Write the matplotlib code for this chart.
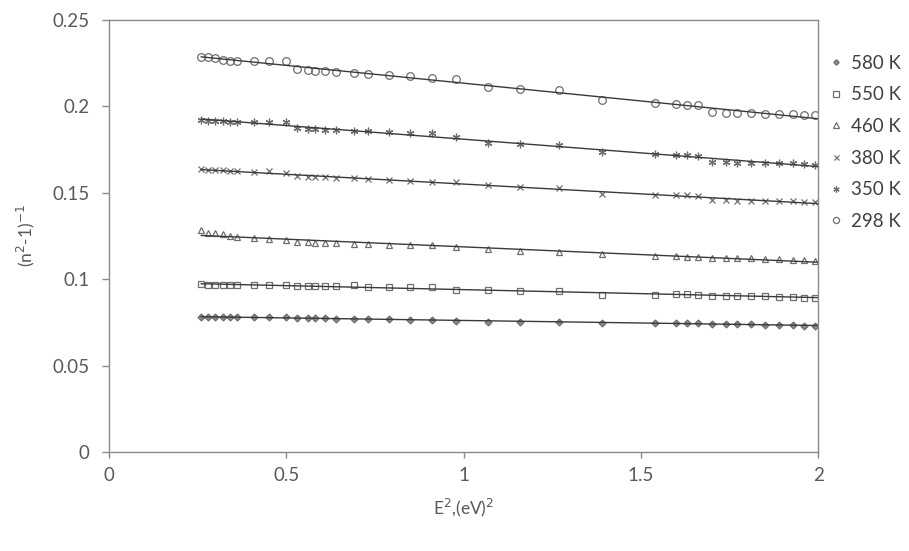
import numpy as np
from matplotlib import pyplot as plt

plt.rcParams['font.family'] = ['Lato', 'DejaVu Sans']

# photon energy squared, (eV)^2 -- same grid for all temperatures
e2 = [0.26, 0.28, 0.30, 0.32, 0.34, 0.36, 0.41, 0.45, 0.50, 0.53, 0.56, 0.58,
      0.61, 0.64, 0.69, 0.73, 0.79, 0.85, 0.91, 0.98, 1.07, 1.16, 1.27, 1.39,
      1.54, 1.60, 1.63, 1.66, 1.70, 1.74, 1.77, 1.81, 1.85, 1.89, 1.93, 1.96, 1.99]

y580 = [0.078, 0.078, 0.078, 0.078, 0.078, 0.078, 0.078, 0.078, 0.078, 0.0775,
        0.0775, 0.0775, 0.0775, 0.077, 0.077, 0.077, 0.077, 0.0765, 0.0765, 0.076,
        0.0755, 0.0755, 0.0755, 0.0745, 0.0745, 0.0745, 0.0745, 0.0745, 0.074, 0.074,
        0.074, 0.074, 0.0735, 0.0735, 0.0735, 0.073, 0.073]
y550 = [0.0975, 0.0965, 0.0965, 0.0965, 0.0965, 0.0965, 0.0965, 0.0965, 0.0965, 0.096,
        0.096, 0.096, 0.096, 0.096, 0.0965, 0.0955, 0.0955, 0.0955, 0.0955, 0.094,
        0.0935, 0.093, 0.093, 0.091, 0.091, 0.0915, 0.0915, 0.091, 0.0905, 0.0905,
        0.0905, 0.0905, 0.0905, 0.0895, 0.0895, 0.089, 0.089]
y460 = [0.1285, 0.127, 0.1265, 0.126, 0.125, 0.1245, 0.124, 0.1235, 0.1225, 0.1215,
        0.1215, 0.121, 0.121, 0.121, 0.1205, 0.1205, 0.12, 0.12, 0.12, 0.1185,
        0.1175, 0.1165, 0.116, 0.1145, 0.1135, 0.1135, 0.113, 0.113, 0.112, 0.112,
        0.112, 0.112, 0.1115, 0.1115, 0.111, 0.111, 0.1105]
y380 = [0.1635, 0.163, 0.163, 0.163, 0.1625, 0.1625, 0.162, 0.1625, 0.1615, 0.1595,
        0.159, 0.159, 0.159, 0.1585, 0.1585, 0.158, 0.1575, 0.157, 0.1565, 0.156,
        0.1545, 0.1535, 0.1525, 0.1495, 0.149, 0.1485, 0.1485, 0.148, 0.146, 0.146,
        0.1455, 0.1455, 0.1455, 0.145, 0.145, 0.1445, 0.1445]
y350 = [0.192, 0.1915, 0.1915, 0.1915, 0.191, 0.191, 0.191, 0.191, 0.191, 0.1875,
        0.187, 0.187, 0.1865, 0.1865, 0.186, 0.1855, 0.185, 0.1845, 0.1845, 0.1825,
        0.179, 0.178, 0.1775, 0.1735, 0.1725, 0.172, 0.172, 0.1715, 0.168, 0.168,
        0.1675, 0.1675, 0.1675, 0.167, 0.167, 0.1665, 0.166]
y298 = [0.2285, 0.2285, 0.228, 0.227, 0.2265, 0.2265, 0.2265, 0.2265, 0.2265, 0.2215,
        0.221, 0.2205, 0.2205, 0.22, 0.2195, 0.219, 0.218, 0.2175, 0.2165, 0.216,
        0.211, 0.210, 0.2095, 0.2035, 0.202, 0.2015, 0.201, 0.201, 0.1965, 0.196,
        0.196, 0.196, 0.1955, 0.1955, 0.1955, 0.195, 0.195]

labels = ['580 K', '550 K', '460 K', '380 K', '350 K', '298 K']
series = [y580, y550, y460, y380, y350, y298]
markers = ['D', 's', '^', 'x', (6, 2, 0), 'o']
msizes = [3.5, 4.8, 4.8, 4.5, 5.5, 5.5]

GREY = '#595959'

fig = plt.figure(figsize=(9.09, 5.51), dpi=100)
ax = fig.add_axes([0.12, 0.1797, 0.78, 0.784])

x = np.array(e2)
for lab, ys, mk, ms in zip(labels, series, markers, msizes):
    ys = np.array(ys)
    filled = mk in ('D',)
    ax.plot(x, ys, linestyle='none', marker=mk, markersize=ms,
            markerfacecolor=('#8c8c8c' if filled else 'none'),
            markeredgecolor='#6e6e6e', markeredgewidth=0.9, label=lab)
    # linear trendline
    p = np.poly1d(np.polyfit(x, ys, 1))
    xl = np.array([x[0], 2.0])
    ax.plot(xl, p(xl), color='#3a3a3a', linewidth=1.0)

ax.set_xlim(0, 2)
ax.set_ylim(0, 0.25)
ax.set_xticks([0, 0.5, 1, 1.5, 2])
ax.set_xticklabels(['0', '0.5', '1', '1.5', '2'])
ax.set_yticks([0, 0.05, 0.1, 0.15, 0.2, 0.25])
ax.set_yticklabels(['0', '0.05', '0.1', '0.15', '0.2', '0.25'])

for s in ax.spines.values():
    s.set_color('#8a8a8a')
    s.set_linewidth(1.0)
ax.tick_params(axis='both', colors='#8a8a8a', labelcolor=GREY, labelsize=13.5,
               width=1.0, direction='out')
ax.tick_params(axis='y', length=5, pad=9)
ax.tick_params(axis='x', length=4, pad=7)

ax.set_xlabel('E$^2$,(eV)$^2$', fontsize=12.5, color=GREY, labelpad=9)
ax.set_ylabel('(n$^2$-1)$^{-1}$', fontsize=12.5, color=GREY, labelpad=11)

leg = ax.legend(loc='upper left', bbox_to_anchor=(1.0, 0.95), frameon=False,
                fontsize=13.5, handlelength=0.5, handletextpad=0.55,
                labelspacing=0.78, borderaxespad=0.3, markerscale=0.8)
for t in leg.get_texts():
    t.set_color('#404040')

fig.savefig('out.png', dpi=100)
